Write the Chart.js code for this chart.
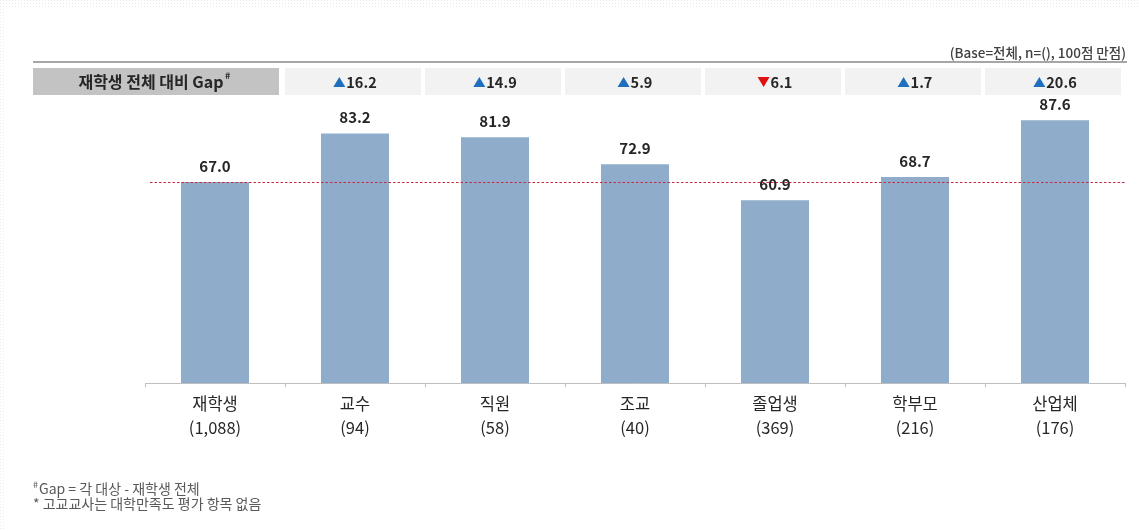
<!DOCTYPE html>
<html>
<head>
<meta charset="utf-8">
<script src="https://cdn.jsdelivr.net/npm/chart.js@4.4.0/dist/chart.umd.min.js"></script>
<style>
  html, body { margin: 0; padding: 0; background: #fff; }
  #wrap { position: relative; width: 1139px; height: 531px; }
</style>
</head>
<body>
<div id="wrap"><canvas id="gap-chart" width="1139" height="531"></canvas></div>
<script>
// data
const groups = ['재학생', '교수', '직원', '조교', '졸업생', '학부모', '산업체'];
const sampleSizes = ['(1,088)', '(94)', '(58)', '(40)', '(369)', '(216)', '(176)'];
const scores = [67.0, 83.2, 81.9, 72.9, 60.9, 68.7, 87.6];
const gaps = [null, 16.2, 14.9, 5.9, -6.1, 1.7, 20.6];
const baseScore = 67.0;

const FONT = '"Noto Sans CJK KR", "Noto Sans", sans-serif';

// gap row, header line, reference line, value labels, footnotes
const extras = {
  id: 'extras',
  beforeDatasetsDraw(chart) {
    const c = chart.ctx;
    const x = chart.scales.x;
    c.save();

    // faint dotted edges of the slide
    c.fillStyle = '#ececec';
    for (let yy = 0; yy < 531; yy += 3) {
      for (let xx = 0; xx < 6; xx += 3) c.fillRect(xx, yy, 1, 1);
    }
    for (let xx = 0; xx < 1139; xx += 3) {
      for (let yy = 0; yy < 9; yy += 3) c.fillRect(xx, yy, 1, 1);
    }

    // top header line + base note
    c.fillStyle = '#a6a6a6';
    c.fillRect(33, 61, 1094, 2);
    c.fillStyle = '#404040';
    c.font = '500 13.5px ' + FONT;
    c.textAlign = 'right';
    c.textBaseline = 'middle';
    c.fillText('(Base=전체, n=(), 100점 만점)', 1126, 53);

    // label cell
    c.fillStyle = '#c3c3c3';
    c.fillRect(33, 68, 246, 27);
    c.fillStyle = '#262626';
    c.font = 'bold 16px ' + FONT;
    c.textAlign = 'center';
    const lbl = '재학생 전체 대비 Gap';
    const w = c.measureText(lbl).width;
    c.fillText(lbl, 151, 81.5);
    c.font = 'bold 9px ' + FONT;
    c.fillText('#', 151 + w / 2 + 4, 76);

    // gap cells
    gaps.forEach((g, i) => {
      if (g === null) return;
      const cx = x.getPixelForValue(i);
      c.fillStyle = '#f2f2f2';
      c.fillRect(cx - 70, 68, 136, 27);
      const txt = Math.abs(g).toFixed(1);
      c.font = 'bold 14.5px ' + FONT;
      const tw = c.measureText(txt).width;
      const tri = 12;
      const start = cx - (tw + tri + 1) / 2;
      c.fillStyle = g >= 0 ? '#1f6fbf' : '#e01010';
      c.beginPath();
      if (g >= 0) {
        c.moveTo(start, 87); c.lineTo(start + tri, 87); c.lineTo(start + tri / 2, 77);
      } else {
        c.moveTo(start, 77); c.lineTo(start + tri, 77); c.lineTo(start + tri / 2, 87);
      }
      c.closePath();
      c.fill();
      c.fillStyle = '#262626';
      c.textAlign = 'left';
      c.fillText(txt, start + tri + 1, 82);
      c.textAlign = 'center';
    });

    // footnotes
    c.fillStyle = '#595959';
    c.textAlign = 'left';
    c.font = '9px ' + FONT;
    c.fillText('#', 33, 485);
    c.font = '14px ' + FONT;
    c.fillText('Gap = 각 대상 - 재학생 전체', 39, 489);
    c.fillText('* 고교교사는 대학만족도 평가 항목 없음', 33, 504);
    c.restore();
  },
  afterDatasetsDraw(chart) {
    const c = chart.ctx;
    const x = chart.scales.x;
    const y = chart.scales.y;
    const area = chart.chartArea;
    c.save();
    // reference line at base score
    const ry = Math.round(y.getPixelForValue(baseScore)) + 0.5;
    c.strokeStyle = '#c42a40';
    c.lineWidth = 1.2;
    c.setLineDash([2.5, 2]);
    c.beginPath();
    c.moveTo(area.left + 5, ry);
    c.lineTo(area.right, ry);
    c.stroke();
    c.setLineDash([]);
    // value labels
    c.fillStyle = '#262626';
    c.font = 'bold 15px ' + FONT;
    c.textAlign = 'center';
    c.textBaseline = 'middle';
    scores.forEach((v, i) => {
      c.fillText(v.toFixed(1), x.getPixelForValue(i), y.getPixelForValue(v) - 16);
    });
    c.restore();
  }
};

new Chart(document.getElementById('gap-chart'), {
  type: 'bar',
  data: {
    labels: groups.map((g, i) => [g, sampleSizes[i]]),
    datasets: [{
      data: scores,
      backgroundColor: '#8faccb',
      borderWidth: 0,
      barPercentage: 0.486,
      categoryPercentage: 1
    }]
  },
  options: {
    responsive: false,
    animation: false,
    layout: { padding: { left: 145, right: 14, top: 83, bottom: 86 } },
    scales: {
      x: {
        offset: true,
        grid: {
          offset: true,
          drawOnChartArea: false,
          tickLength: 4,
          color: '#bfbfbf'
        },
        border: { color: '#bfbfbf' },
        ticks: {
          color: '#262626',
          font: { family: FONT, size: 16.5, lineHeight: 1.45 },
          padding: 5
        }
      },
      y: {
        display: false,
        min: 0,
        max: 100
      }
    },
    plugins: {
      legend: { display: false },
      tooltip: { enabled: false }
    }
  },
  plugins: [extras]
});
</script>
</body>
</html>
